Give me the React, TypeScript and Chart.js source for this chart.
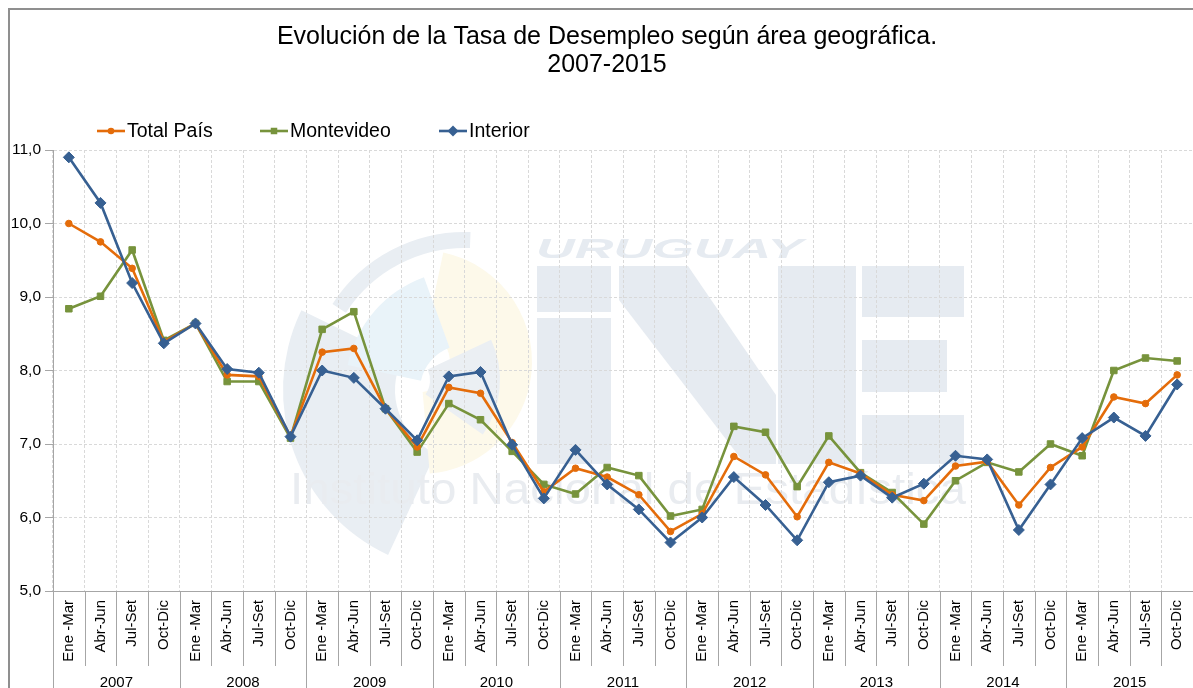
import React, { useEffect, useRef } from 'react';
import { Chart, registerables } from 'chart.js';

Chart.register(...registerables);

const FONT = "'Liberation Sans', Arial, Helvetica, sans-serif";

const titleLines = ['Evolución de la Tasa de Desempleo según área geográfica.', '2007-2015'];
const years = ['2007', '2008', '2009', '2010', '2011', '2012', '2013', '2014', '2015'];
const quarters = ['Ene -Mar', 'Abr-Jun', 'Jul-Set', 'Oct-Dic'];
const categories = years.flatMap(() => quarters);

const seriesNames = ['Total País', 'Montevideo', 'Interior'];
const totalPais = [10.0, 9.75, 9.39, 8.39, 8.64, 7.94, 7.92, 7.1, 8.25, 8.3, 7.48, 6.96, 7.77, 7.69, 7.02, 6.35, 6.67, 6.55, 6.31, 5.81, 6.05, 6.83, 6.58, 6.01, 6.75, 6.6, 6.31, 6.23, 6.7, 6.76, 6.17, 6.68, 6.96, 7.64, 7.55, 7.94];
const montevideo = [8.84, 9.01, 9.64, 8.41, 8.64, 7.85, 7.85, 7.08, 8.56, 8.8, 7.48, 6.89, 7.55, 7.33, 6.9, 6.45, 6.32, 6.68, 6.57, 6.02, 6.11, 7.24, 7.16, 6.42, 7.11, 6.61, 6.34, 5.91, 6.5, 6.75, 6.62, 7.0, 6.84, 8.0, 8.17, 8.13];
const interior = [10.9, 10.28, 9.19, 8.37, 8.64, 8.02, 7.97, 7.1, 8.0, 7.9, 7.48, 7.05, 7.92, 7.98, 6.99, 6.26, 6.92, 6.45, 6.11, 5.66, 6.0, 6.55, 6.17, 5.69, 6.48, 6.57, 6.27, 6.46, 6.84, 6.79, 5.83, 6.45, 7.08, 7.36, 7.11, 7.81];

const yMin = 5;
const yMax = 11;
const yStep = 1;

const watermarkTop = 'URUGUAY';
const watermarkBottom = 'Instituto Nacional de Estadística';

const COLORS = { orange: '#E46C0A', green: '#77933C', blue: '#376092' };

function drawMarker(ctx: CanvasRenderingContext2D, style: string, x: number, y: number, r: number, color: string) {
  ctx.save();
  ctx.fillStyle = color;
  ctx.beginPath();
  if (style === 'circle') {
    ctx.arc(x, y, r, 0, Math.PI * 2);
  } else if (style === 'rect') {
    const s = r * Math.SQRT1_2;
    ctx.rect(x - s, y - s, 2 * s, 2 * s);
  } else {
    ctx.moveTo(x, y - r);
    ctx.lineTo(x + r, y);
    ctx.lineTo(x, y + r);
    ctx.lineTo(x - r, y);
    ctx.closePath();
  }
  ctx.fill();
  ctx.restore();
}

const framePlugin = {
  id: 'frameAndWatermark',
  beforeDraw(chart: any) {
    const ctx: CanvasRenderingContext2D = chart.ctx;
    ctx.save();
    ctx.fillStyle = '#ffffff';
    ctx.fillRect(0, 0, chart.width, chart.height);
    // frame
    ctx.strokeStyle = '#8f8f8f';
    ctx.lineWidth = 2;
    ctx.beginPath();
    ctx.moveTo(9, chart.height + 5);
    ctx.lineTo(9, 9);
    ctx.lineTo(chart.width + 5, 9);
    ctx.stroke();

    // watermark logo (decorative)
    const cx = 465, cy = 390;
    const deg = Math.PI / 180;
    ctx.fillStyle = '#e9eef3';
    ctx.beginPath();
    ctx.arc(cx, cy, 182, 115 * deg, 206 * deg);
    ctx.arc(cx, cy, 70, 206 * deg, 115 * deg, true);
    ctx.closePath();
    ctx.fill();
    ctx.fillStyle = '#fdf9ea';
    ctx.beginPath();
    ctx.arc(420, 362, 112, -78 * deg, 85 * deg);
    ctx.arc(420, 362, 30, 85 * deg, -78 * deg, true);
    ctx.closePath();
    ctx.fill();
    ctx.fillStyle = '#e9f3f9';
    ctx.beginPath();
    ctx.arc(cx, cy, 120, 192 * deg, 250 * deg);
    ctx.arc(cx, cy, 45, 250 * deg, 192 * deg, true);
    ctx.closePath();
    ctx.fill();
    ctx.fillStyle = '#ebeff3';
    ctx.beginPath();
    ctx.arc(405, 380, 95, -25 * deg, 35 * deg);
    ctx.arc(405, 380, 25, 35 * deg, -25 * deg, true);
    ctx.closePath();
    ctx.fill();
    ctx.strokeStyle = '#e9eef3';
    ctx.lineWidth = 16;
    ctx.beginPath();
    ctx.arc(cx, cy, 150, 213 * deg, 272 * deg);
    ctx.stroke();

    // INE blocks
    ctx.fillStyle = '#e6ebf1';
    ctx.fillRect(537, 266, 74, 46);
    ctx.fillRect(537, 318, 74, 146);
    ctx.beginPath();
    ctx.moveTo(619, 266);
    ctx.lineTo(688, 266);
    ctx.lineTo(776, 395);
    ctx.lineTo(776, 464);
    ctx.lineTo(745, 464);
    ctx.lineTo(619, 300);
    ctx.closePath();
    ctx.fill();
    ctx.fillRect(778, 266, 78, 198);
    ctx.fillRect(862, 266, 102, 51);
    ctx.fillRect(862, 340, 85, 52);
    ctx.fillRect(862, 415, 102, 49);

    ctx.font = `italic bold 28px ${FONT}`;
    ctx.textBaseline = 'alphabetic';
    ctx.textAlign = 'left';
    const wTop = ctx.measureText(watermarkTop).width;
    ctx.save();
    ctx.translate(536, 258);
    ctx.scale(267 / wTop, 1);
    ctx.fillText(watermarkTop, 0, 0);
    ctx.restore();
    ctx.fillStyle = '#e9ecf0';
    ctx.font = `44px ${FONT}`;
    const wBot = ctx.measureText(watermarkBottom).width;
    ctx.save();
    ctx.translate(290, 504);
    ctx.scale(676 / wBot, 1);
    ctx.fillText(watermarkBottom, 0, 0);
    ctx.restore();
    ctx.restore();
  },
  afterDraw(chart: any) {
    const ctx: CanvasRenderingContext2D = chart.ctx;
    const xs = chart.scales.x;
    const area = chart.chartArea;
    ctx.save();
    ctx.fillStyle = '#000000';
    ctx.font = `25px ${FONT}`;
    ctx.textAlign = 'center';
    ctx.textBaseline = 'middle';
    ctx.fillText(titleLines[0], 607, 37);
    ctx.fillText(titleLines[1], 607, 65);

    const legendX = [97, 260, 439];
    const legendY = 131;
    ctx.font = `19.5px ${FONT}`;
    ctx.textAlign = 'left';
    chart.data.datasets.forEach((ds: any, i: number) => {
      const x0 = legendX[i];
      ctx.strokeStyle = ds.borderColor;
      ctx.lineWidth = 2.6;
      ctx.beginPath();
      ctx.moveTo(x0, legendY);
      ctx.lineTo(x0 + 28, legendY);
      ctx.stroke();
      drawMarker(ctx, ds.pointStyle, x0 + 14, legendY, ds.pointRadius, ds.borderColor);
      ctx.fillStyle = '#000000';
      ctx.fillText(ds.label, x0 + 30, legendY + 1);
    });

    const half = (xs.getPixelForValue(1) - xs.getPixelForValue(0)) / 2;
    ctx.strokeStyle = '#a6a6a6';
    ctx.lineWidth = 1;
    for (let k = 0; k <= categories.length; k++) {
      const x = Math.round(xs.getPixelForValue(0) - half + k * 2 * half) + 0.5;
      const yEnd = k % quarters.length === 0 ? chart.height : area.bottom + 75;
      ctx.beginPath();
      ctx.moveTo(x, area.bottom);
      ctx.lineTo(x, yEnd);
      ctx.stroke();
    }
    ctx.fillStyle = '#000000';
    ctx.font = `15px ${FONT}`;
    ctx.textAlign = 'center';
    ctx.textBaseline = 'middle';
    years.forEach((yr, i) => {
      const a = xs.getPixelForValue(i * 4);
      const b = xs.getPixelForValue(i * 4 + 3);
      ctx.fillText(yr, (a + b) / 2, area.bottom + 92);
    });
    ctx.restore();
  },
};

export default function App() {
  const ref = useRef<HTMLCanvasElement | null>(null);
  useEffect(() => {
    if (!ref.current) return;
    const chart = new Chart(ref.current, {
      type: 'line',
      data: {
        labels: categories,
        datasets: [
          {
            label: seriesNames[0],
            data: totalPais,
            borderColor: COLORS.orange,
            backgroundColor: COLORS.orange,
            pointStyle: 'circle',
            pointRadius: 3.3,
            pointBorderWidth: 1,
            borderWidth: 2.6,
            order: 1,
          },
          {
            label: seriesNames[1],
            data: montevideo,
            borderColor: COLORS.green,
            backgroundColor: COLORS.green,
            pointStyle: 'rect',
            pointRadius: 4.6,
            pointBorderWidth: 1,
            borderWidth: 2.6,
            order: 2,
          },
          {
            label: seriesNames[2],
            data: interior,
            borderColor: COLORS.blue,
            backgroundColor: COLORS.blue,
            pointStyle: 'rectRot',
            pointRadius: 5.5,
            pointBorderWidth: 1,
            borderWidth: 2.6,
            order: 0,
          },
        ] as any,
      },
      options: {
        responsive: false,
        animation: false,
        maintainAspectRatio: false,
        layout: { autoPadding: false, padding: { top: 150, left: 0, right: 0, bottom: 0 } },
        plugins: {
          legend: { display: false },
          title: { display: false },
          tooltip: { enabled: false },
        },
        scales: {
          x: {
            type: 'category',
            offset: true,
            grid: { offset: true, color: '#d9d9d9', drawTicks: false, lineWidth: 1 },
            border: { color: '#a6a6a6', dash: [3, 2] },
            ticks: {
              autoSkip: false,
              maxRotation: 90,
              minRotation: 90,
              padding: 9,
              color: '#000000',
              font: { family: FONT, size: 15 },
            },
            afterFit: (s: any) => {
              s.height = 97;
              s.paddingRight = 0;
              s.paddingLeft = 0;
            },
          },
          y: {
            min: yMin,
            max: yMax,
            grid: { color: '#d9d9d9', tickLength: 8, tickColor: '#a6a6a6', lineWidth: 1 },
            border: { color: '#a6a6a6', dash: [3, 2] },
            ticks: {
              stepSize: yStep,
              padding: 4,
              color: '#000000',
              font: { family: FONT, size: 15.5 },
              callback: (v: any) => Number(v).toFixed(1).replace('.', ','),
            },
            afterFit: (s: any) => {
              s.width = 53;
              s.paddingTop = 0;
              s.paddingBottom = 0;
            },
          },
        },
      } as any,
      plugins: [framePlugin],
    });
    return () => chart.destroy();
  }, []);
  return (
    <div style={{ position: 'fixed', left: 0, top: 0, width: 1193, height: 688, overflow: 'hidden', background: '#fff' }}>
      <canvas ref={ref} width={1193} height={688} style={{ display: 'block', width: 1193, height: 688 }} />
    </div>
  );
}
